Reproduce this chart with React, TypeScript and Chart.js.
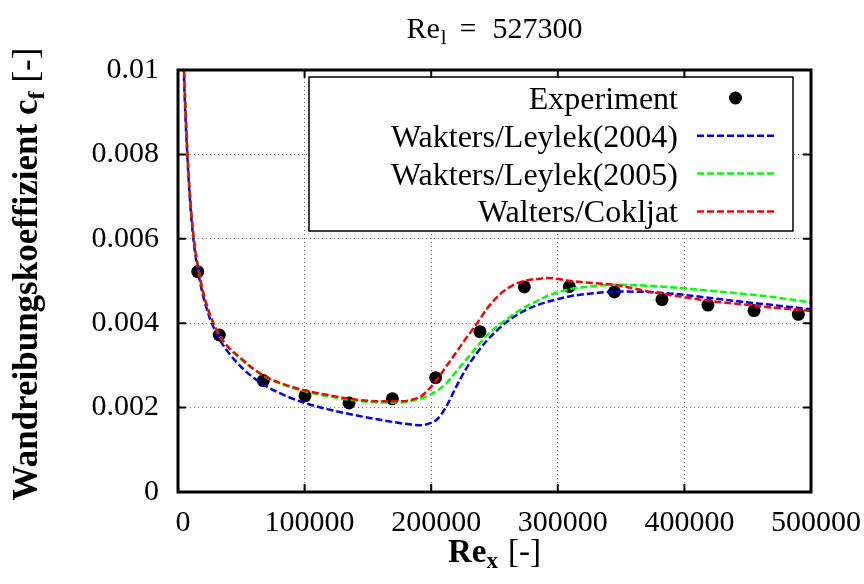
import React, { useEffect, useRef } from "react";
import { Chart, registerables } from "chart.js";

Chart.register(...registerables);

// ---------------- data ----------------
const expX = [15600, 32600, 67400, 100300, 135100, 169300, 203500, 238500, 273600, 309100, 344700, 382300, 418600, 455000, 490000];
const expY = [0.00522, 0.00372, 0.00264, 0.00228, 0.00211, 0.00221, 0.00271, 0.0038, 0.00486, 0.00487, 0.00474, 0.00456, 0.00443, 0.0043, 0.00421];

const curveX = [3500, 5000, 7500, 10000, 12500, 16000, 20000, 25000, 33000, 40000, 50000, 60000, 70000, 85000, 100000, 120000, 140000, 160000, 176000, 184000, 192000, 198000, 205000, 212000, 220000, 228000, 236000, 244000, 252000, 260000, 268000, 276000, 284000, 292000, 300000, 310000, 325000, 347000, 370000, 390000, 420000, 445000, 470000, 500000];

const blueY = [0.0113, 0.0096, 0.0079, 0.0067, 0.0059, 0.0052, 0.00463, 0.00413, 0.00361, 0.0033, 0.00296, 0.0027, 0.0025, 0.00228, 0.00211, 0.00195, 0.00182, 0.00171, 0.00163, 0.0016, 0.00158, 0.00162, 0.00173, 0.00203, 0.00251, 0.00294, 0.00329, 0.00359, 0.00383, 0.00404, 0.0042, 0.00433, 0.00443, 0.00451, 0.00457, 0.00464, 0.0047, 0.00475, 0.00474, 0.0047, 0.0046, 0.00451, 0.00443, 0.00433];

const greenY = [0.0114, 0.0098, 0.008, 0.0068, 0.006, 0.0053, 0.00472, 0.00422, 0.0037, 0.00341, 0.00314, 0.0029, 0.00271, 0.00252, 0.00239, 0.00226, 0.00217, 0.00212, 0.00212, 0.00216, 0.00222, 0.00229, 0.0024, 0.00258, 0.00286, 0.00315, 0.00344, 0.00371, 0.00392, 0.0041, 0.00427, 0.00441, 0.00453, 0.00465, 0.00473, 0.00481, 0.00487, 0.00491, 0.00489, 0.00485, 0.00477, 0.0047, 0.00462, 0.00449];

const redY = [0.0114, 0.0098, 0.008, 0.0068, 0.006, 0.0053, 0.00472, 0.00422, 0.0037, 0.00343, 0.00316, 0.00291, 0.00272, 0.00254, 0.00241, 0.00229, 0.00219, 0.00215, 0.00215, 0.00218, 0.00227, 0.00243, 0.00268, 0.00298, 0.00332, 0.00366, 0.00399, 0.00434, 0.00462, 0.00482, 0.00495, 0.00502, 0.00505, 0.00507, 0.00505, 0.005, 0.00496, 0.0049, 0.00476, 0.00466, 0.00453, 0.00445, 0.00437, 0.00429];

const seriesLabels = ["Experiment", "Wakters/Leylek(2004)", "Wakters/Leylek(2005)", "Walters/Cokljat"];
const seriesColors = ["#000000", "#0000ff", "#00ff00", "#ff0000"];

const xTicks = [0, 100000, 200000, 300000, 400000, 500000];
const xTickLabels = ["0", "100000", "200000", "300000", "400000", "500000"];
const yTicks = [0, 0.002, 0.004, 0.006, 0.008, 0.01];
const yTickLabels = ["0", "0.002", "0.004", "0.006", "0.008", "0.01"];

const titleMain = "Re";
const titleSub = "l";
const titleValue = "527300";
const xTitleMain = "Re";
const xTitleSub = "x";
const yTitleMain = "Wandreibungskoeffizient c";
const yTitleSub = "f";
const unitText = "[-]";

// ---------------- styling ----------------
const SERIF = '"Liberation Serif", "Times New Roman", serif';
const DASH = [7, 3];

type Run = { t?: string; font?: string; dy?: number; gap?: number };

function runWidth(ctx: CanvasRenderingContext2D, runs: Run[]) {
  let w = 0;
  for (const r of runs) {
    if (r.gap) w += r.gap;
    if (r.t) {
      ctx.font = r.font as string;
      w += ctx.measureText(r.t).width;
    }
  }
  return w;
}

function drawRuns(ctx: CanvasRenderingContext2D, runs: Run[], x: number, y: number) {
  let cx = x;
  ctx.textBaseline = "alphabetic";
  ctx.textAlign = "left";
  for (const r of runs) {
    if (r.gap) cx += r.gap;
    if (r.t) {
      ctx.font = r.font as string;
      ctx.fillText(r.t, cx, y + (r.dy || 0));
      cx += ctx.measureText(r.t).width;
    }
  }
}

const decorPlugin = {
  id: "decor",
  afterDatasetsDraw(chart: any) {
    const ctx: CanvasRenderingContext2D = chart.ctx;
    const ca = chart.chartArea;
    const xs = chart.scales.x;
    const ys = chart.scales.y;
    ctx.save();

    // legend box
    const bx = ca.left + 131;
    const by = ca.top + 7;
    const bw = ca.right - 18 - bx;
    const bh = 154;
    ctx.fillStyle = "#ffffff";
    ctx.fillRect(bx, by, bw, bh);
    ctx.strokeStyle = "#000";
    ctx.lineWidth = 1.5;
    ctx.strokeRect(bx, by, bw, bh);

    const sampleEnd = bx + bw - 19;
    const sampleStart = sampleEnd - 77;
    const textRight = sampleStart - 19;
    [0, 1, 2, 3].forEach((k, i) => {
      const cy = by + 22 + i * 37.8;
      ctx.fillStyle = "#000";
      ctx.font = `32px ${SERIF}`;
      ctx.textAlign = "right";
      ctx.textBaseline = "alphabetic";
      ctx.fillText(seriesLabels[k], textRight, cy + 10);
      if (k === 0) {
        ctx.beginPath();
        ctx.arc((sampleStart + sampleEnd) / 2, cy - 1, 6.5, 0, Math.PI * 2);
        ctx.fillStyle = seriesColors[k];
        ctx.fill();
      } else {
        ctx.beginPath();
        ctx.setLineDash(DASH);
        ctx.strokeStyle = seriesColors[k];
        ctx.lineWidth = 2.5;
        ctx.moveTo(sampleStart, cy - 1);
        ctx.lineTo(sampleEnd, cy - 1);
        ctx.stroke();
        ctx.setLineDash([]);
      }
    });

    // frame
    ctx.strokeStyle = "#000";
    ctx.lineWidth = 3;
    ctx.strokeRect(ca.left, ca.top, ca.right - ca.left, ca.bottom - ca.top);

    // inward ticks
    ctx.lineWidth = 2;
    const tl = 8;
    xTicks.forEach((v) => {
      const px = xs.getPixelForValue(v);
      ctx.beginPath();
      ctx.moveTo(px, ca.bottom);
      ctx.lineTo(px, ca.bottom - tl);
      ctx.moveTo(px, ca.top);
      ctx.lineTo(px, ca.top + tl);
      ctx.stroke();
    });
    yTicks.forEach((v) => {
      const py = ys.getPixelForValue(v);
      ctx.beginPath();
      ctx.moveTo(ca.left, py);
      ctx.lineTo(ca.left + tl, py);
      ctx.moveTo(ca.right, py);
      ctx.lineTo(ca.right - tl, py);
      ctx.stroke();
    });

    // titles
    ctx.fillStyle = "#000";
    const cxMid = (ca.left + ca.right) / 2;
    const tRuns: Run[] = [
      { t: titleMain, font: `30px ${SERIF}` },
      { t: titleSub, font: `21px ${SERIF}`, dy: 6, gap: 1 },
      { t: "=", font: `30px ${SERIF}`, gap: 13 },
      { t: titleValue, font: `30px ${SERIF}`, gap: 16 },
    ];
    drawRuns(ctx, tRuns, cxMid - runWidth(ctx, tRuns) / 2, 38);

    const xRuns: Run[] = [
      { t: xTitleMain, font: `bold 33px ${SERIF}` },
      { t: xTitleSub, font: `bold 23px ${SERIF}`, dy: 6 },
      { t: unitText, font: `33px ${SERIF}`, gap: 10 },
    ];
    drawRuns(ctx, xRuns, cxMid - runWidth(ctx, xRuns) / 2, 562);

    const yRuns: Run[] = [
      { t: yTitleMain, font: `bold 35px ${SERIF}` },
      { t: yTitleSub, font: `bold 24px ${SERIF}`, dy: 7 },
      { t: unitText, font: `35px ${SERIF}`, gap: 9 },
    ];
    ctx.save();
    ctx.translate(37, 274);
    ctx.rotate(-Math.PI / 2);
    drawRuns(ctx, yRuns, -runWidth(ctx, yRuns) / 2, 0);
    ctx.restore();

    ctx.restore();
  },
};

export default function App() {
  const ref = useRef<HTMLCanvasElement | null>(null);

  useEffect(() => {
    document.body.style.margin = "0";
    if (!ref.current) return;
    const curve = (label: string, color: string, ys: number[], order: number) => ({
      label,
      data: curveX.map((x, i) => ({ x, y: ys[i] })),
      borderColor: color,
      backgroundColor: color,
      borderWidth: 2.5,
      borderDash: DASH,
      pointRadius: 0,
      cubicInterpolationMode: "monotone" as const,
      fill: false,
      order,
    });
    const chart = new Chart(ref.current, {
      type: "line",
      data: {
        datasets: [
          curve(seriesLabels[3], seriesColors[3], redY, 1),
          curve(seriesLabels[2], seriesColors[2], greenY, 2),
          curve(seriesLabels[1], seriesColors[1], blueY, 3),
          {
            label: seriesLabels[0],
            data: expX.map((x, i) => ({ x, y: expY[i] })),
            showLine: false,
            pointRadius: 6.5,
            pointBorderWidth: 0,
            pointBackgroundColor: seriesColors[0],
            borderColor: seriesColors[0],
            backgroundColor: seriesColors[0],
            order: 4,
          } as any,
        ],
      },
      options: {
        animation: false,
        responsive: false,
        devicePixelRatio: 1,
        layout: { padding: { top: 70, right: 53, left: 0, bottom: 0 } },
        plugins: { legend: { display: false }, tooltip: { enabled: false }, title: { display: false } },
        scales: {
          x: {
            type: "linear",
            min: 0,
            max: 500000,
            afterBuildTicks: (s: any) => {
              s.ticks = xTicks.map((v) => ({ value: v }));
            },
            afterFit: (s: any) => {
              s.height = 92;
              s.paddingLeft = 0;
              s.paddingRight = 0;
            },
            grid: { color: "#808080", lineWidth: 1, drawTicks: false },
            border: { display: false, dash: [1, 3] },
            ticks: {
              color: "#000",
              font: { family: SERIF, size: 30 },
              padding: 13,
              labelOffset: 5,
              maxRotation: 0,
              autoSkip: false,
              callback: (v: any) => xTickLabels[xTicks.indexOf(Number(v))] ?? String(v),
            },
          },
          y: {
            type: "linear",
            min: 0,
            max: 0.01,
            afterBuildTicks: (s: any) => {
              s.ticks = yTicks.map((v) => ({ value: v }));
            },
            afterFit: (s: any) => {
              s.width = 178;
              s.paddingTop = 0;
              s.paddingBottom = 0;
            },
            grid: { color: "#808080", lineWidth: 1, drawTicks: false },
            border: { display: false, dash: [1, 3] },
            ticks: {
              color: "#000",
              font: { family: SERIF, size: 30 },
              padding: 19,
              autoSkip: false,
              callback: (v: any) => {
                const i = yTicks.findIndex((t) => Math.abs(t - Number(v)) < 1e-9);
                return i >= 0 ? yTickLabels[i] : String(v);
              },
            },
          },
        },
      },
      plugins: [decorPlugin],
    } as any);
    return () => chart.destroy();
  }, []);

  return (
    <div style={{ width: 864, height: 584 }}>
      <canvas ref={ref} width={864} height={584} style={{ display: "block", width: 864, height: 584 }} />
    </div>
  );
}
